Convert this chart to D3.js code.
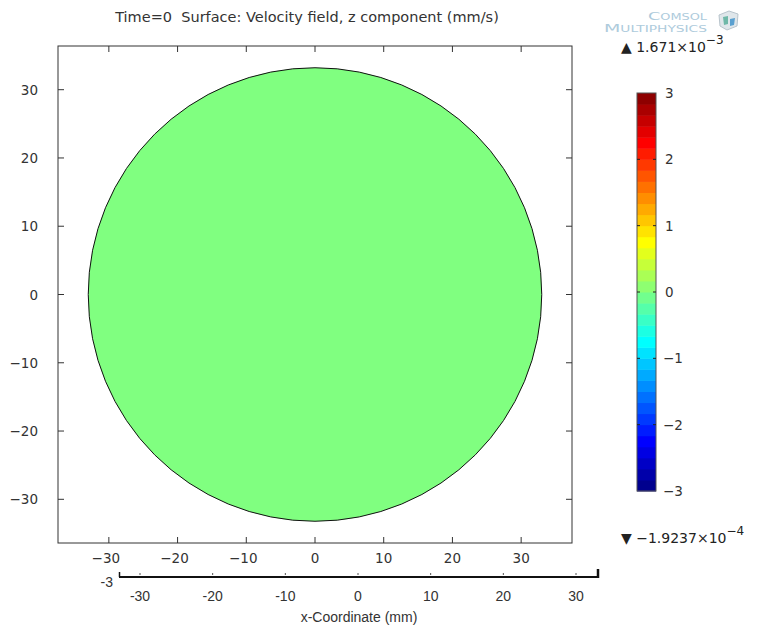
<!DOCTYPE html>
<html>
<head>
<meta charset="utf-8">
<script src="https://cdn.jsdelivr.net/npm/d3@7"></script>
<style>
  body { margin: 0; background: #fff; }
  text { font-family: "DejaVu Sans", sans-serif; }
</style>
</head>
<body>
<div id="chart"></div>
<script>
// chart values
var titleText = "Time=0  Surface: Velocity field, z component (mm/s)";
var xTicks = [-30, -20, -10, 0, 10, 20, 30];
var yTicks = [-30, -20, -10, 0, 10, 20, 30];
var cbTicks = [-3, -2, -1, 0, 1, 2, 3];
var domainRadius = 33;          // mm
var fieldValue = 0;              // z velocity at time 0
var cbRange = [-3, 3];
var cbBands = 36;
var maxLabel = ["1.671", "−3"];
var minLabel = ["−1.9237", "−4"];
var lowerTicks = [-30, -20, -10, 0, 10, 20, 30];
var lowerAxisTitle = "x-Coordinate (mm)";

var W = 765, H = 629;
var svg = d3.select("#chart").append("svg")
    .attr("width", W).attr("height", H);

var plot = {left: 58, right: 572, top: 46, bottom: 543};

var x = d3.scaleLinear().domain([-37.4, 37.4]).range([plot.left, plot.right]);
var y = d3.scaleLinear().domain([-36.4, 36.4]).range([plot.bottom, plot.top]);

// jet-like colormap, stepped
function jet(t) {
    var c = function (v) { return Math.max(0, Math.min(1, v)); };
    var r = c(1.5 - Math.abs(4 * t - 3)),
        g = c(1.5 - Math.abs(4 * t - 2)),
        b = c(1.5 - Math.abs(4 * t - 1));
    return d3.rgb(r * 255, g * 255, b * 255).toString();
}
var cNorm = d3.scaleLinear().domain(cbRange).range([0, 1]);

// title
svg.append("text")
    .attr("x", 307).attr("y", 22)
    .attr("text-anchor", "middle")
    .style("white-space", "pre")
    .style("font-size", "14.5px").style("fill", "#333")
    .text(titleText);

// the surface (disc)
svg.append("circle")
    .attr("cx", x(0)).attr("cy", y(0))
    .attr("r", x(domainRadius) - x(0))
    .style("fill", jet(cNorm(fieldValue)))
    .style("stroke", "#111").style("stroke-width", 1);

// frame + inward ticks
var tickLen = 6;
svg.append("rect")
    .attr("x", plot.left).attr("y", plot.top)
    .attr("width", plot.right - plot.left).attr("height", plot.bottom - plot.top)
    .style("fill", "none").style("stroke", "#333").style("stroke-width", 1);

var gAx = svg.append("g").style("stroke", "#333");
xTicks.forEach(function (d) {
    gAx.append("line").attr("x1", x(d)).attr("x2", x(d)).attr("y1", plot.bottom).attr("y2", plot.bottom - tickLen);
    gAx.append("line").attr("x1", x(d)).attr("x2", x(d)).attr("y1", plot.top).attr("y2", plot.top + tickLen);
});
yTicks.forEach(function (d) {
    gAx.append("line").attr("y1", y(d)).attr("y2", y(d)).attr("x1", plot.left).attr("x2", plot.left + tickLen);
    gAx.append("line").attr("y1", y(d)).attr("y2", y(d)).attr("x1", plot.right).attr("x2", plot.right - tickLen);
});

var fmt = d3.format("d");
svg.append("g").selectAll("text")
    .data(xTicks).enter().append("text")
    .attr("x", function (d) { return x(d) - (d < 0 ? 3 : 0); })
    .attr("y", plot.bottom + 20)
    .attr("text-anchor", "middle")
    .style("font-size", "13.5px").style("fill", "#333")
    .text(function (d) { return fmt(d); });

svg.append("g").selectAll("text")
    .data(yTicks).enter().append("text")
    .attr("x", plot.left - 20)
    .attr("y", function (d) { return y(d) + 5; })
    .attr("text-anchor", "end")
    .style("font-size", "13.5px").style("fill", "#333")
    .text(function (d) { return fmt(d); });

// colorbar
var cb = {x: 637, w: 19, top: 93, bottom: 491};
var cy = d3.scaleLinear().domain(cbRange).range([cb.bottom, cb.top]);
var step = (cbRange[1] - cbRange[0]) / cbBands;
var bands = d3.range(cbBands).map(function (i) { return cbRange[0] + i * step; });
svg.append("g").selectAll("rect")
    .data(bands).enter().append("rect")
    .attr("x", cb.x)
    .attr("y", function (d) { return cy(d + step); })
    .attr("width", cb.w)
    .attr("height", function (d) { return cy(d) - cy(d + step) + 0.5; })
    .style("fill", function (d) { return jet(cNorm(d + step / 2)); });
svg.append("rect")
    .attr("x", cb.x).attr("y", cb.top).attr("width", cb.w).attr("height", cb.bottom - cb.top)
    .style("fill", "none").style("stroke", "#555").style("stroke-width", 1);
var gCb = svg.append("g").style("stroke", "#222");
cbTicks.slice(1, -1).forEach(function (d) {
    gCb.append("line").attr("x1", cb.x).attr("x2", cb.x + 3).attr("y1", cy(d)).attr("y2", cy(d));
    gCb.append("line").attr("x1", cb.x + cb.w - 3).attr("x2", cb.x + cb.w).attr("y1", cy(d)).attr("y2", cy(d));
});
svg.append("g").selectAll("text")
    .data(cbTicks).enter().append("text")
    .attr("x", function (d) { return d < 0 ? 663 : 665; })
    .attr("y", function (d) { return cy(d) + 5; })
    .style("font-size", "13.5px").style("fill", "#333")
    .text(function (d) { return fmt(d); });

// max / min annotations
function extremeLabel(yPos, symbol, parts) {
    var t = svg.append("text").attr("x", 621).attr("y", yPos)
        .style("font-size", "14px").style("fill", "#222");
    t.append("tspan").text(symbol + " " + parts[0] + "×10");
    t.append("tspan").attr("dy", -8).style("font-size", "12px").text(parts[1]);
}
extremeLabel(52, "▲", maxLabel);
extremeLabel(543, "▼", minLabel);

// logo
var logo = svg.append("g").style("fill", "#aecbdc");
logo.append("text").attr("x", 648).attr("y", 20)
    .attr("textLength", 59).attr("lengthAdjust", "spacingAndGlyphs")
    .style("font-size", "11px").style("font-variant", "small-caps")
    .text("Comsol");
logo.append("text").attr("x", 604).attr("y", 32)
    .attr("textLength", 103).attr("lengthAdjust", "spacingAndGlyphs")
    .style("font-size", "11px").style("font-variant", "small-caps")
    .text("Multiphysics");
var cube = svg.append("g").attr("transform", "translate(719,11)");
cube.append("path").attr("d", "M0,4 L10,0 L19,3 L18,15 L8,19 L1,15 Z")
    .style("fill", "#dfe6ea").style("stroke", "#b8c4cc");
cube.append("path").attr("d", "M4,6 L9,5 L9,13 L5,14 Z").style("fill", "#6fb8a8");
cube.append("path").attr("d", "M11,8 L16,7 L15,14 L11,15 Z").style("fill", "#5aa0d0");

// lower coordinate strip
var lx = d3.scaleLinear().domain([-30, 30]).range([140, 576]);
var lowY = 577;
var lowFont = "'Liberation Sans Narrow', 'Liberation Sans', Arial, sans-serif";
var low = svg.append("g");
low.append("line").attr("x1", 119).attr("x2", 598).attr("y1", lowY).attr("y2", lowY)
    .style("stroke", "#111").style("stroke-width", 2);
low.append("line").attr("x1", 119.5).attr("x2", 119.5).attr("y1", lowY - 5).attr("y2", lowY)
    .style("stroke", "#111").style("stroke-width", 1.5);
low.append("line").attr("x1", 598).attr("x2", 598).attr("y1", lowY - 8).attr("y2", lowY + 1)
    .style("stroke", "#111").style("stroke-width", 2.5);
lowerTicks.forEach(function (d) {
    low.append("line").attr("x1", lx(d)).attr("x2", lx(d)).attr("y1", lowY - 4).attr("y2", lowY - 2)
        .style("stroke", "#555");
});
low.selectAll("text.tl")
    .data(lowerTicks).enter().append("text")
    .attr("class", "tl")
    .attr("x", function (d) { return lx(d); })
    .attr("y", lowY + 24)
    .attr("text-anchor", "middle")
    .style("font-family", lowFont)
    .style("font-size", "14px").style("fill", "#333")
    .text(function (d) { return String(d); });
low.append("text").attr("x", 113).attr("y", lowY + 10).attr("text-anchor", "end")
    .style("font-family", lowFont)
    .style("font-size", "14px").style("fill", "#333").text("-3");
low.append("text").attr("x", 359).attr("y", lowY + 45).attr("text-anchor", "middle")
    .style("font-family", lowFont)
    .style("font-size", "14px").style("fill", "#333").text(lowerAxisTitle);
</script>
</body>
</html>
